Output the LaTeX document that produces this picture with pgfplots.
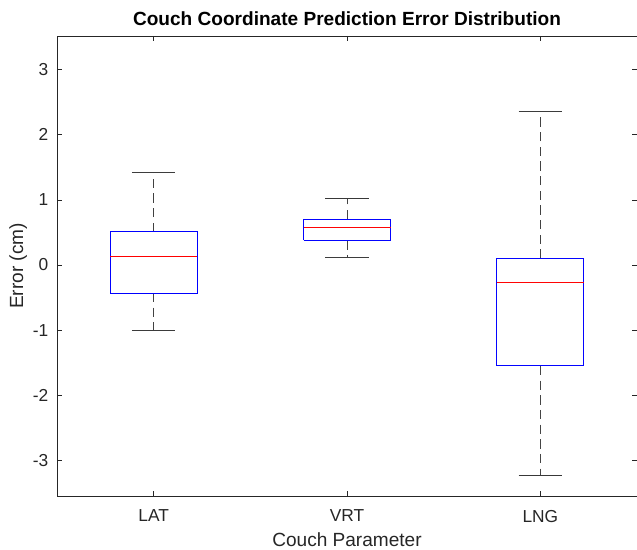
\documentclass[border=0pt]{standalone}
\usepackage{pgfplots}
\pgfplotsset{compat=1.18}
\usepackage{fontspec}
\setmainfont{Liberation Sans}
\definecolor{axgray}{gray}{0.15}
\definecolor{wA}{rgb}{0.25,0.25,0.25}
\definecolor{wB}{rgb}{0.26,0.26,0.26}
\definecolor{wC}{rgb}{0.27,0.27,0.27}
\definecolor{cA}{rgb}{0.24,0.24,0.24}
\definecolor{cB}{rgb}{0.23,0.23,0.23}
\definecolor{cC}{rgb}{0.22,0.22,0.22}
\definecolor{bA}{rgb}{0,0,1}
\definecolor{bB}{rgb}{0.01,0.01,1}
\definecolor{bC}{rgb}{0.02,0.02,1}
\definecolor{mA}{rgb}{1,0,0}
\definecolor{mB}{rgb}{1,0.01,0.01}
\definecolor{mC}{rgb}{1,0.02,0.02}
\pgfplotsset{
  whisk/.style={draw=#1, line width=0.7pt, dash pattern=on 7pt off 4pt, no marks, forget plot},
  cap/.style={draw=#1, line width=0.7pt, solid, no marks, forget plot},
  bbox/.style={draw=#1, line width=0.75pt, solid, no marks, forget plot},
  med/.style={draw=#1, line width=0.75pt, solid, no marks, forget plot},
}
\begin{document}
\begin{tikzpicture}
\begin{axis}[
  name=ax,
  scale only axis,
  width=435pt, height=345pt,
  xmin=0.5, xmax=3.5, ymin=-3.55, ymax=3.52,
  xtick={1,2,3}, xticklabels={LAT,VRT,LNG},
  ytick={-3,-2,-1,0,1,2,3},
  tick align=inside,
  major tick length=4pt,
  axis line style={axgray, line width=0.6pt},
  every tick/.style={axgray, line width=0.6pt},
  tick label style={font=\fontsize{13}{15}\selectfont, text=axgray},
  xticklabel style={yshift=-7pt},
  yticklabel style={xshift=-3pt},
  /pgf/number format/assume math mode=true,
  title={\bfseries Couch Coordinate Prediction Error Distribution},
  title style={font=\fontsize{14.3}{16}\selectfont, yshift=-2pt},
  xlabel={Couch Parameter}, ylabel={Error (cm)},
  label style={font=\fontsize{14.3}{16}\selectfont, text=axgray},
  xlabel style={yshift=-1pt},
  ylabel shift=-2.5pt,
]
% LAT (position 1): lw=-1.00, q1=-0.43, med=0.13, q3=0.51, uw=1.43
\addplot[whisk=wA] coordinates {(1,0.51) (1,1.43)};
\addplot[whisk=wB] coordinates {(1,-0.43) (1,-1.00)};
\addplot[cap=cA] coordinates {(0.8875,1.43) (1.1125,1.43)};
\addplot[cap=cB] coordinates {(0.8875,-1.00) (1.1125,-1.00)};
\addplot[bbox=bA] coordinates {(0.775,-0.43) (1.225,-0.43) (1.225,0.51) (0.775,0.51) (0.775,-0.43)};
\addplot[med=mA] coordinates {(0.775,0.13) (1.225,0.13)};
% VRT (position 2): lw=0.11, q1=0.38, med=0.58, q3=0.705, uw=1.03
\addplot[whisk=wC] coordinates {(2,0.705) (2,1.03)};
\addplot[whisk=wA] coordinates {(2,0.38) (2,0.11)};
\addplot[cap=cC] coordinates {(1.8875,1.03) (2.1125,1.03)};
\addplot[cap=cA] coordinates {(1.8875,0.11) (2.1125,0.11)};
\addplot[bbox=bB] coordinates {(1.775,0.38) (2.225,0.38) (2.225,0.705) (1.775,0.705) (1.775,0.38)};
\addplot[med=mB] coordinates {(1.775,0.58) (2.225,0.58)};
% LNG (position 3): lw=-3.24, q1=-1.55, med=-0.27, q3=0.10, uw=2.36
\addplot[whisk=wB] coordinates {(3,0.10) (3,2.36)};
\addplot[whisk=wC] coordinates {(3,-1.55) (3,-3.24)};
\addplot[cap=cB] coordinates {(2.8875,2.36) (3.1125,2.36)};
\addplot[cap=cC] coordinates {(2.8875,-3.24) (3.1125,-3.24)};
\addplot[bbox=bC] coordinates {(2.775,-1.55) (3.225,-1.55) (3.225,0.10) (2.775,0.10) (2.775,-1.55)};
\addplot[med=mC] coordinates {(2.775,-0.27) (3.225,-0.27)};
\end{axis}
\pgfresetboundingbox
\path[use as bounding box] ([shift={(-42.75pt,-39.75pt)}]ax.south west) rectangle ([shift={(0pt,27pt)}]ax.north east);
\end{tikzpicture}
\end{document}
